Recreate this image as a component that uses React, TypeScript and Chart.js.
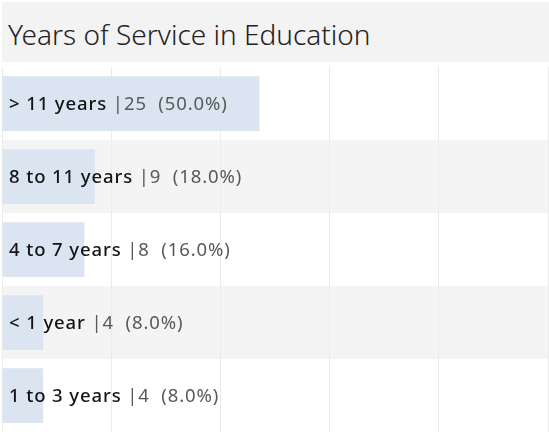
import React, { useEffect, useRef } from "react";
import { Chart, registerables } from "chart.js";

Chart.register(...registerables);

const TITLE = "Years of Service in Education";
const categories = ["> 11 years", "8 to 11 years", "4 to 7 years", "< 1 year", "1 to 3 years"];
const counts = [25, 9, 8, 4, 4];
const percents = ["50.0%", "18.0%", "16.0%", "8.0%", "8.0%"];
const axisMax = 53;
const gridTicks = [0, 10.6, 21.2, 31.8, 42.4, 53];

const BAR = "#dbe5f1";
const ROW_ALT = "#f4f4f4";
const GRID = "#ebebeb";
const TITLE_FONT = "'Noto Sans', 'Open Sans', sans-serif";
const LABEL_FONT = "'Noto Sans', 'Open Sans', sans-serif";

const rowBg = {
  id: "rowBg",
  beforeDraw(chart: any) {
    const { ctx, chartArea } = chart;
    const y = chart.scales.y;
    const n = categories.length;
    const h = (chartArea.bottom - chartArea.top) / n;
    ctx.save();
    for (let i = 0; i < n; i++) {
      const c = y.getPixelForValue(i);
      ctx.fillStyle = i % 2 === 1 ? ROW_ALT : "#ffffff";
      ctx.fillRect(0, c - h / 2, chart.width, h);
    }
    ctx.restore();
  },
};

const labels = {
  id: "labels",
  afterDatasetsDraw(chart: any) {
    const { ctx, chartArea } = chart;
    const y = chart.scales.y;
    ctx.save();
    ctx.textBaseline = "middle";
    try {
      (ctx as any).letterSpacing = "0.9px";
    } catch (e) {}
    categories.forEach((cat, i) => {
      const cy = y.getPixelForValue(i) + 1;
      let x = chartArea.left + 7;
      ctx.font = `500 18.5px ${LABEL_FONT}`;
      ctx.fillStyle = "#141414";
      ctx.fillText(cat, x, cy);
      x += ctx.measureText(cat).width;
      ctx.font = `400 18.5px ${LABEL_FONT}`;
      ctx.fillStyle = "#595959";
      const rest = ` |${counts[i]}  (${percents[i]})`;
      ctx.fillText(rest, x, cy);
    });
    ctx.restore();
  },
};

export default function App() {
  const ref = useRef<HTMLCanvasElement>(null);
  useEffect(() => {
    document.body.style.margin = "0";
    const chart = new Chart(ref.current!, {
      type: "bar",
      data: {
        labels: categories,
        datasets: [
          {
            data: counts,
            backgroundColor: BAR,
            barPercentage: 0.75,
            categoryPercentage: 1,
          },
        ],
      },
      options: {
        indexAxis: "y",
        animation: false,
        responsive: false,
        maintainAspectRatio: false,
        layout: { padding: { left: 0, right: 1, top: 0, bottom: 0 } },
        plugins: { legend: { display: false }, tooltip: { enabled: false }, title: { display: false } },
        scales: {
          x: {
            min: 0,
            max: axisMax,
            afterBuildTicks: (s: any) => {
              s.ticks = gridTicks.map((v) => ({ value: v }));
            },
            ticks: { display: false },
            border: { display: false },
            grid: { color: GRID, lineWidth: 1, drawTicks: false },
          },
          y: { display: false },
        },
      },
      plugins: [rowBg, labels],
    });
    return () => chart.destroy();
  }, []);

  return (
    <div style={{ position: "relative", width: 549, height: 432, background: "#fff", overflow: "hidden" }}>
      <div
        style={{
          position: "absolute",
          left: 2,
          top: 2,
          width: 547,
          height: 60,
          background: "#f3f3f3",
          fontFamily: TITLE_FONT,
          fontWeight: 300,
          fontSize: 28,
          color: "#222",
          lineHeight: "64px",
          paddingLeft: 6,
          boxSizing: "border-box",
        }}
      >
        {TITLE}
      </div>
      <canvas
        ref={ref}
        width={547}
        height={365}
        style={{ position: "absolute", left: 2, top: 67, width: 547, height: 365 }}
      />
    </div>
  );
}
